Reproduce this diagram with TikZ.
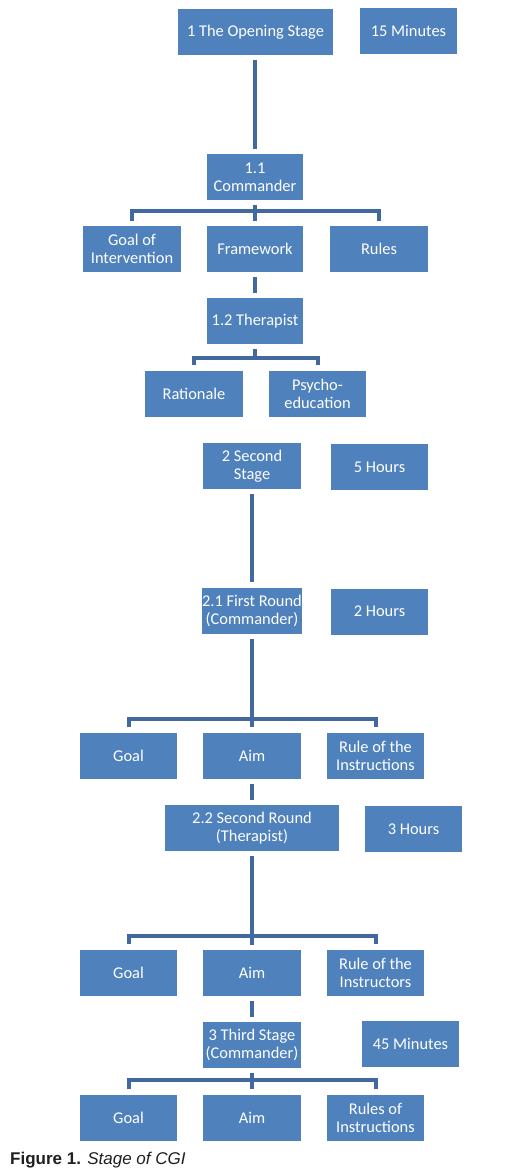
\documentclass[tikz,border=0pt]{standalone}
\usepackage{fontspec}
\setmainfont{Carlito}
\newfontfamily\capfont{Liberation Sans}
\definecolor{boxblue}{HTML}{4F81BD}
\definecolor{lineblue}{RGB}{65,105,160}
\begin{document}
\begin{tikzpicture}[x=1pt,y=-1pt,
  box/.style={fill=boxblue, text=white, inner sep=0pt, minimum height=46pt, minimum width=98pt, align=center, font=\fontsize{16.4}{18}\selectfont},
  conn/.style={draw=lineblue, line width=4pt, shorten <=5pt, shorten >=5pt},
  tick/.style={draw=lineblue, line width=4pt}]
\useasboundingbox (0,0) rectangle (509,1175);
% level 1
\node[box, minimum width=155pt] (s1) at (255.5,32) {1 The Opening Stage};
\node[box, minimum width=97pt] (m15) at (408.5,31) {15 Minutes};
\node[box, minimum width=96pt] (c11) at (255,177) {1.1\\Commander};
\node[box] (goi) at (132,249) {Goal of\\Intervention};
\node[box, minimum width=96pt] (fw) at (255,249) {Framework};
\node[box] (rul) at (379,249) {Rules};
\node[box, minimum width=96pt] (t12) at (255,321) {1.2 Therapist};
\node[box] (rat) at (194,394) {Rationale};
\node[box, minimum width=97pt] (psy) at (317.5,394) {Psycho-\\education};
% level 2
\node[box] (s2) at (252,466) {2 Second\\Stage};
\node[box, minimum width=97pt] (h5) at (379.5,467) {5 Hours};
\node[box] (r21) at (252,610.5) {2.1 First Round\\(Commander)};
\node[box, minimum width=97pt] (h2) at (379.5,611.5) {2 Hours};
\node[box, minimum width=97pt] (g1) at (128.5,755.5) {Goal};
\node[box] (a1) at (252,755.5) {Aim};
\node[box, minimum width=97pt] (ri1) at (375.5,755.5) {Rule of the\\Instructions};
\node[box, minimum width=174pt] (r22) at (252,828) {2.2 Second Round\\(Therapist)};
\node[box, minimum width=97pt] (h3) at (413.5,829) {3 Hours};
\node[box, minimum width=97pt] (g2) at (128.5,973) {Goal};
\node[box] (a2) at (252,973) {Aim};
\node[box, minimum width=97pt] (ri2) at (375.5,973) {Rule of the\\Instructors};
% level 3
\node[box] (s3) at (252,1045) {3 Third Stage\\(Commander)};
\node[box, minimum width=97pt] (m45) at (410.5,1043.5) {45 Minutes};
\node[box, minimum width=97pt] (g3) at (128.5,1117.5) {Goal};
\node[box] (a3) at (252,1117.5) {Aim};
\node[box, minimum width=97pt] (ri3) at (375.5,1117.5) {Rules of\\Instructions};
% connectors
\draw[conn] (c11.north |- s1.south) -- (c11.north);
\draw[conn] (c11.south) -- (fw.north);
\draw[tick] ([yshift=5pt]goi.north) -- ++(0,-9.5) -| ([yshift=5pt]rul.north);
\draw[conn] (fw.south) -- (t12.north);
\draw[tick] ([yshift=-5pt]t12.south) -- ++(0,9);
\draw[tick] ([yshift=6pt]rat.north) -- ++(0,-7) -| ([yshift=6pt]psy.north);
\draw[conn] (s2.south) -- (r21.north);
\draw[conn] (r21.south) -- (a1.north);
\draw[tick] ([yshift=5pt]g1.north) -- ++(0,-8) -| ([yshift=5pt]ri1.north);
\draw[conn] (a1.south) -- (r22.north);
\draw[conn] (r22.south) -- (a2.north);
\draw[tick] ([yshift=6pt]g2.north) -- ++(0,-8) -| ([yshift=6pt]ri2.north);
\draw[conn] (a2.south) -- (s3.north);
\draw[conn] (s3.south) -- (a3.north);
\draw[tick] ([yshift=5pt]g3.north) -- ++(0,-9) -| ([yshift=5pt]ri3.north);
% caption
\node[anchor=base west, inner sep=0pt, text=black!88, font=\capfont\fontsize{17}{19}\selectfont] (cap) at (10,1164) {\textbf{Figure 1.} \textit{Stage of CGI}};
\end{tikzpicture}
\end{document}
